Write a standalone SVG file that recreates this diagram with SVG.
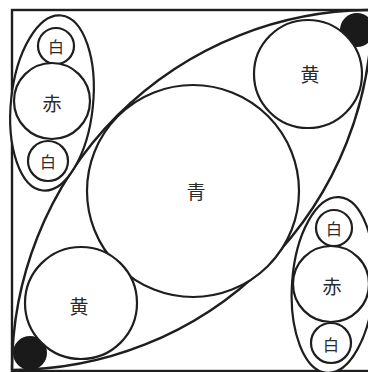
<svg xmlns="http://www.w3.org/2000/svg" width="368" height="372" viewBox="0 0 368 372">
<style>
.ln{fill:none;stroke:#1e1e1e;stroke-width:2.4}
.c{fill:#fff;stroke:#1e1e1e;stroke-width:2.2}
.pill{fill:#fff;stroke:#1e1e1e;stroke-width:2.2}
.dot{fill:#1a1a1a}
.t{font-family:"Noto Sans CJK JP","Noto Sans CJK SC",sans-serif;fill:#2a2a2a;text-anchor:middle;dominant-baseline:central}
.tl{font-size:19px}
.ts{font-size:16px}
</style>
<rect width="368" height="372" fill="#fff"/>
<g id="frame">
<rect x="12" y="10" width="362" height="361" class="ln" stroke-width="3"/>
</g>
<g id="lens">
<path class="ln" d="M12,370 A360,360 0 0 1 372,10"/>
<path class="ln" d="M12,370 A360,360 0 0 0 372,10"/>
</g>
<g id="dot-tr"><circle class="dot" cx="357" cy="30" r="17"/></g>
<g id="dot-bl"><circle class="dot" cx="30" cy="353" r="17"/></g>
<g id="ao">
<circle class="c" cx="193" cy="191" r="106"/>
<text class="t tl" x="196" y="190">青</text>
</g>
<g id="ki-tr">
<circle class="c" cx="308" cy="74" r="54"/>
<text class="t tl" x="310" y="73">黄</text>
</g>
<g id="ki-bl">
<circle class="c" cx="81" cy="303" r="56"/>
<text class="t tl" x="79" y="305">黄</text>
</g>
<g id="pill-left">
<ellipse class="pill" cx="52" cy="103" rx="41" ry="88" transform="rotate(6 52 103)"/>
<circle class="c" cx="56" cy="46" r="18"/>
<text class="t ts" x="56" y="46">白</text>
<circle class="c" cx="52" cy="101" r="38"/>
<text class="t tl" x="52" y="102">赤</text>
<circle class="c" cx="48" cy="161" r="20"/>
<text class="t ts" x="48" y="161">白</text>
</g>
<g id="pill-right">
<ellipse class="pill" cx="333" cy="285" rx="41" ry="88" transform="rotate(4 333 285)"/>
<circle class="c" cx="334" cy="228" r="18"/>
<text class="t ts" x="334" y="228">白</text>
<circle class="c" cx="331" cy="284" r="38"/>
<text class="t tl" x="332" y="285">赤</text>
<circle class="c" cx="331" cy="343" r="20"/>
<text class="t ts" x="331" y="344">白</text>
</g>
</svg>
